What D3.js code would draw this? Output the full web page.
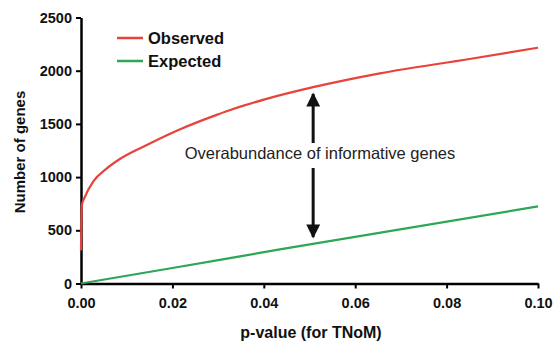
<!DOCTYPE html>
<html>
<head>
<meta charset="utf-8">
<script src="https://cdn.jsdelivr.net/npm/d3@7"></script>
<style>
  body { margin: 0; background: #fff; }
  svg { display: block; font-family: "Liberation Sans", Arial, sans-serif; }
</style>
</head>
<body>
<svg id="chart"></svg>
<script>
// values
var obsP = [0, 0.0002, 0.0008, 0.0027, 0.0056, 0.0085, 0.0144, 0.0217, 0.0297, 0.0333, 0.0406, 0.0508, 0.0654, 0.085, 0.1];
var observed = [310, 740, 810, 960, 1080, 1170, 1302, 1450, 1585, 1640, 1735, 1845, 1975, 2110, 2216];
var expP = [0, 0.02, 0.0435, 0.1];
var expected = [0, 146, 320, 725];
var xTicks = [0, 0.02, 0.04, 0.06, 0.08, 0.10];
var yTicks = [0, 500, 1000, 1500, 2000, 2500];
var seriesNames = ["Observed", "Expected"];
var arrowP = 0.0508;

var width = 554, height = 343;
var svg = d3.select("#chart").attr("width", width).attr("height", height);

var x = d3.scaleLinear([0, 0.1], [81, 538]);
var y = d3.scaleLinear([0, 2500], [283.5, 17.5]);

var red = "#e8423a", green = "#2ea655";

// y axis
svg.append("g")
    .attr("transform", "translate(81,0)")
    .call(d3.axisLeft(y).tickValues(yTicks).tickFormat(d3.format("d")).tickSize(5).tickSizeOuter(0).tickPadding(4))
    .call(g => g.select(".domain").attr("stroke-width", 2.5))
    .call(g => g.selectAll(".tick line").attr("stroke-width", 2))
    .call(g => g.selectAll(".tick text")
        .attr("font-size", 14.5).attr("font-weight", "bold").attr("fill", "#111")
        .attr("font-family", "Liberation Sans, Arial, sans-serif"));

// x axis
svg.append("g")
    .attr("transform", "translate(0,283.5)")
    .call(d3.axisBottom(x).tickValues(xTicks).tickFormat(d3.format(".2f")).tickSize(5).tickSizeOuter(0).tickPadding(9))
    .call(g => g.select(".domain").attr("stroke-width", 2.5))
    .call(g => g.selectAll(".tick line").attr("stroke-width", 2))
    .call(g => g.selectAll(".tick text")
        .attr("font-size", 14.5).attr("font-weight", "bold").attr("fill", "#111")
        .attr("font-family", "Liberation Sans, Arial, sans-serif"));

// axis titles
svg.append("text")
    .attr("x", 311).attr("y", 338)
    .attr("text-anchor", "middle")
    .attr("font-size", 16).attr("font-weight", "bold").attr("fill", "#111")
    .text("p-value (for TNoM)");

svg.append("text")
    .attr("transform", "translate(25,152) rotate(-90)")
    .attr("text-anchor", "middle")
    .attr("font-size", 15).attr("font-weight", "bold").attr("fill", "#111")
    .text("Number of genes");

// lines
var line = d3.line()
    .x(d => x(d[0]))
    .y(d => y(d[1]))
    .curve(d3.curveMonotoneX);

svg.append("path")
    .attr("fill", "none").attr("stroke", green).attr("stroke-width", 2.2)
    .attr("d", line(d3.zip(expP, expected)));

svg.append("path")
    .attr("fill", "none").attr("stroke", red).attr("stroke-width", 2.2)
    .attr("d", line(d3.zip(obsP, observed)));

// legend
var legend = svg.append("g");
[red, green].forEach(function(c, i) {
    var ly = 38 + i * 23;
    legend.append("line")
        .attr("x1", 117).attr("x2", 143).attr("y1", ly).attr("y2", ly)
        .attr("stroke", c).attr("stroke-width", 2.5);
    legend.append("text")
        .attr("x", 148).attr("y", ly).attr("dy", "0.35em")
        .attr("font-size", 16.5).attr("font-weight", "bold").attr("fill", "#111")
        .text(seriesNames[i]);
});

// annotation with two arrows
svg.append("defs").append("marker")
    .attr("id", "head")
    .attr("viewBox", "0 0 10 10")
    .attr("refX", 9).attr("refY", 5)
    .attr("markerWidth", 5).attr("markerHeight", 4.6)
    .attr("markerUnits", "strokeWidth")
    .attr("orient", "auto")
  .append("path")
    .attr("d", "M0,0L10,5L0,10Z")
    .attr("fill", "#111");

var ax = x(arrowP);
svg.append("line")
    .attr("x1", ax).attr("x2", ax).attr("y1", 143).attr("y2", 94)
    .attr("stroke", "#111").attr("stroke-width", 3)
    .attr("marker-end", "url(#head)");
svg.append("line")
    .attr("x1", ax).attr("x2", ax).attr("y1", 168).attr("y2", 237)
    .attr("stroke", "#111").attr("stroke-width", 3)
    .attr("marker-end", "url(#head)");

svg.append("text")
    .attr("x", 320).attr("y", 153).attr("dy", "0.35em")
    .attr("text-anchor", "middle")
    .attr("font-size", 16.5).attr("fill", "#222")
    .text("Overabundance of informative genes");
</script>
</body>
</html>
